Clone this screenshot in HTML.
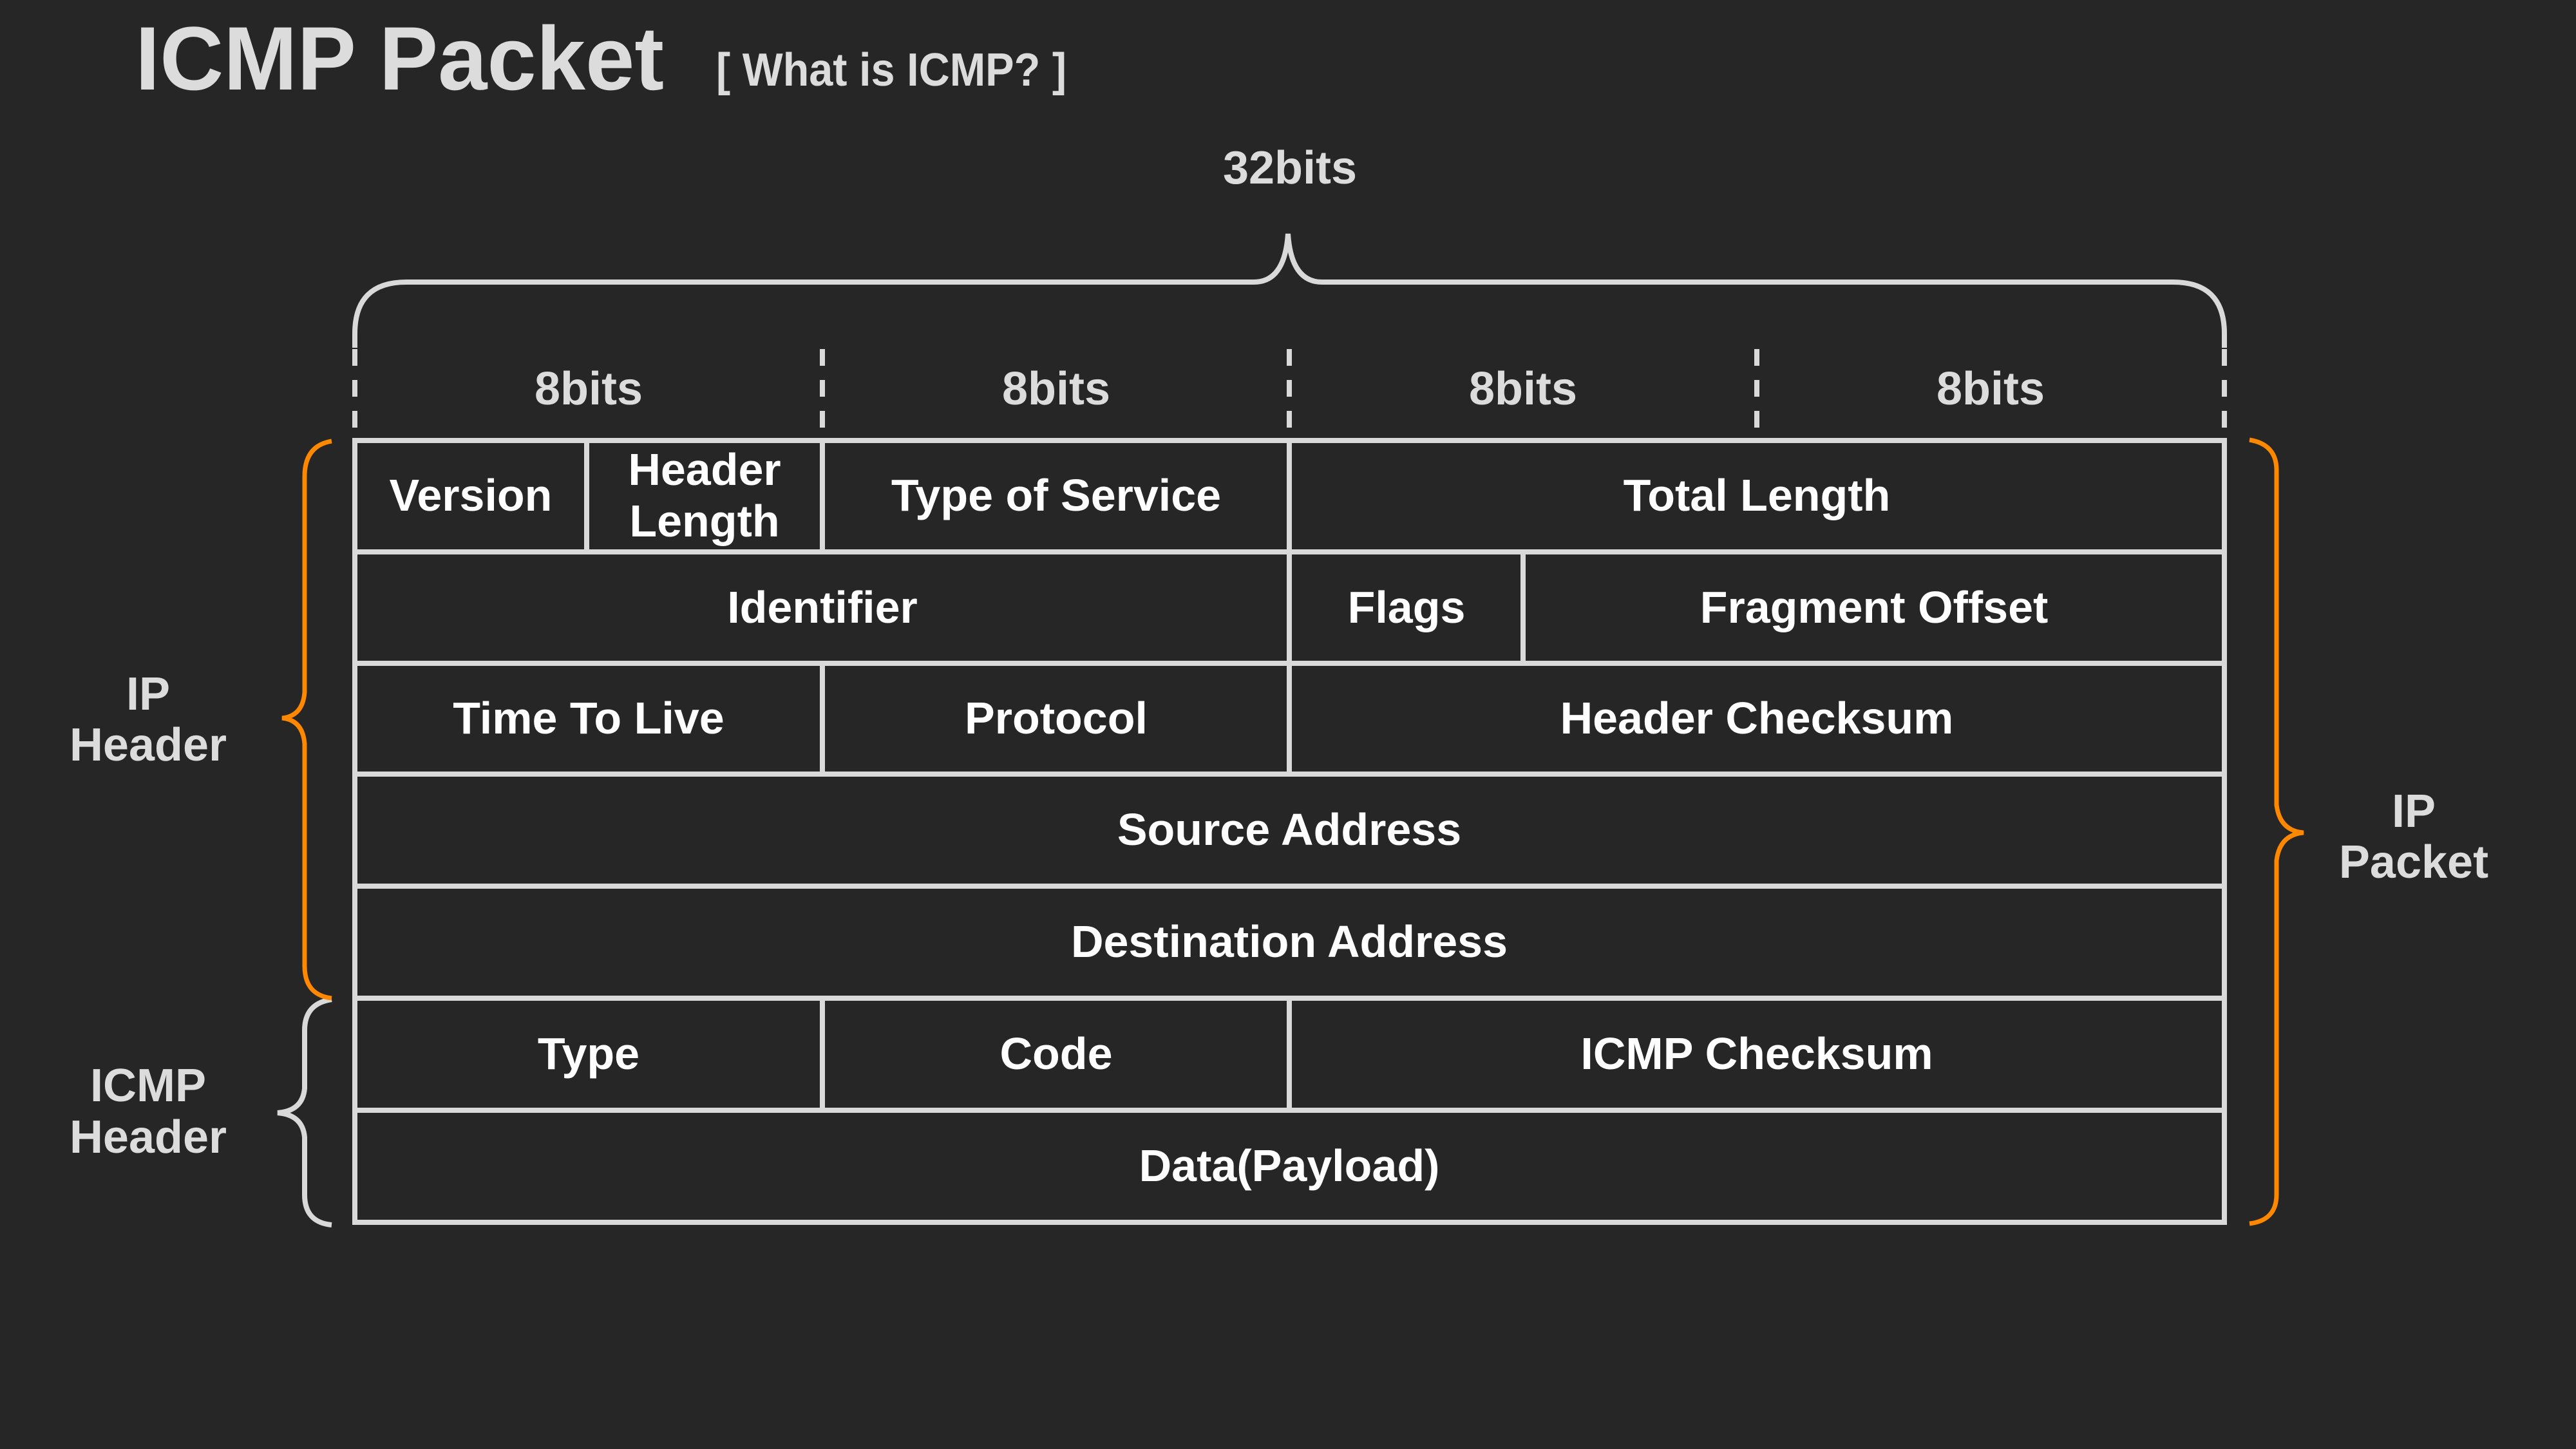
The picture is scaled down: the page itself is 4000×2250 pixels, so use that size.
<!DOCTYPE html>
<html><head><meta charset="utf-8"><style>
html,body{margin:0;padding:0;background:#262626;}
svg{display:block;}
text{font-family:"Liberation Sans",sans-serif;font-weight:bold;}
</style></head><body>
<svg width="4000" height="2250" viewBox="0 0 4000 2250" xmlns="http://www.w3.org/2000/svg">
<rect width="4000" height="2250" fill="#262626"/>
<text x="210" y="139" font-size="140" fill="#dcdcdc" textLength="821" lengthAdjust="spacingAndGlyphs">ICMP Packet</text>
<text x="1112" y="133" font-size="72" fill="#dcdcdc" textLength="544" lengthAdjust="spacingAndGlyphs">[ What is ICMP? ]</text>
<text x="2003" y="285" font-size="72" fill="#dcdcdc" text-anchor="middle">32bits</text>

<g fill="none" stroke="#d9d9d9" stroke-width="8">
<path d="M551,540 L551,518 Q551,438 631,438 L1947,438 Q1995,438 2000,363 Q2005,438 2053,438 L3374,438 Q3454,438 3454,518 L3454,540"/>
<g stroke-dasharray="26 22">
<line x1="551" y1="542" x2="551" y2="672"/>
<line x1="1277" y1="542" x2="1277" y2="672"/>
<line x1="2002" y1="542" x2="2002" y2="672"/>
<line x1="2728" y1="542" x2="2728" y2="672"/>
<line x1="3454" y1="542" x2="3454" y2="672"/>
</g>
<rect x="551" y="684" width="2903" height="1214"/>
<line x1="551" y1="857" x2="3454" y2="857"/>
<line x1="551" y1="1030" x2="3454" y2="1030"/>
<line x1="551" y1="1202" x2="3454" y2="1202"/>
<line x1="551" y1="1376" x2="3454" y2="1376"/>
<line x1="551" y1="1550" x2="3454" y2="1550"/>
<line x1="551" y1="1724" x2="3454" y2="1724"/>
<line x1="911" y1="684" x2="911" y2="857"/>
<line x1="1277" y1="684" x2="1277" y2="857"/>
<line x1="2002" y1="684" x2="2002" y2="857"/>
<line x1="2002" y1="857" x2="2002" y2="1030"/>
<line x1="2365" y1="857" x2="2365" y2="1030"/>
<line x1="1277" y1="1030" x2="1277" y2="1202"/>
<line x1="2002" y1="1030" x2="2002" y2="1202"/>
<line x1="1277" y1="1550" x2="1277" y2="1724"/>
<line x1="2002" y1="1550" x2="2002" y2="1724"/>
<path d="M515,1552 Q473,1558 473,1600 L473,1690 Q470,1725 431,1728 Q470,1731 473,1766 L473,1855 Q473,1898 515,1902"/>
</g>
<g fill="none" stroke="#ff8800" stroke-width="7">
<path d="M3493,683 Q3535,690 3535,730 L3535,1250 Q3540,1290 3577,1293 Q3540,1296 3535,1336 L3535,1855 Q3535,1895 3493,1900"/>
<path d="M515,685 Q473,692 473,740 L473,1075 Q470,1112 438,1115 Q470,1118 473,1155 L473,1500 Q473,1545 515,1550"/>
</g>

<g font-size="72" fill="#dcdcdc" text-anchor="middle">
<text x="914" y="628">8bits</text>
<text x="1640" y="628">8bits</text>
<text x="2365" y="628">8bits</text>
<text x="3091" y="628">8bits</text>
<text x="230" y="1102">IP</text>
<text x="230" y="1181">Header</text>
<text x="230" y="1710">ICMP</text>
<text x="230" y="1790">Header</text>
<text x="3748" y="1284">IP</text>
<text x="3748" y="1363">Packet</text>
</g>

<g font-size="70" fill="#ffffff" text-anchor="middle">
<text x="731" y="793">Version</text>
<text x="1094" y="753">Header</text>
<text x="1094" y="833">Length</text>
<text x="1640" y="793">Type of Service</text>
<text x="2728" y="793">Total Length</text>
<text x="1277" y="967">Identifier</text>
<text x="2184" y="967">Flags</text>
<text x="2910" y="967">Fragment Offset</text>
<text x="914" y="1139">Time To Live</text>
<text x="1640" y="1139">Protocol</text>
<text x="2728" y="1139">Header Checksum</text>
<text x="2002" y="1312">Source Address</text>
<text x="2002" y="1486">Destination Address</text>
<text x="914" y="1660">Type</text>
<text x="1640" y="1660">Code</text>
<text x="2728" y="1660">ICMP Checksum</text>
<text x="2002" y="1834">Data(Payload)</text>
</g>
</svg>
</body></html>
